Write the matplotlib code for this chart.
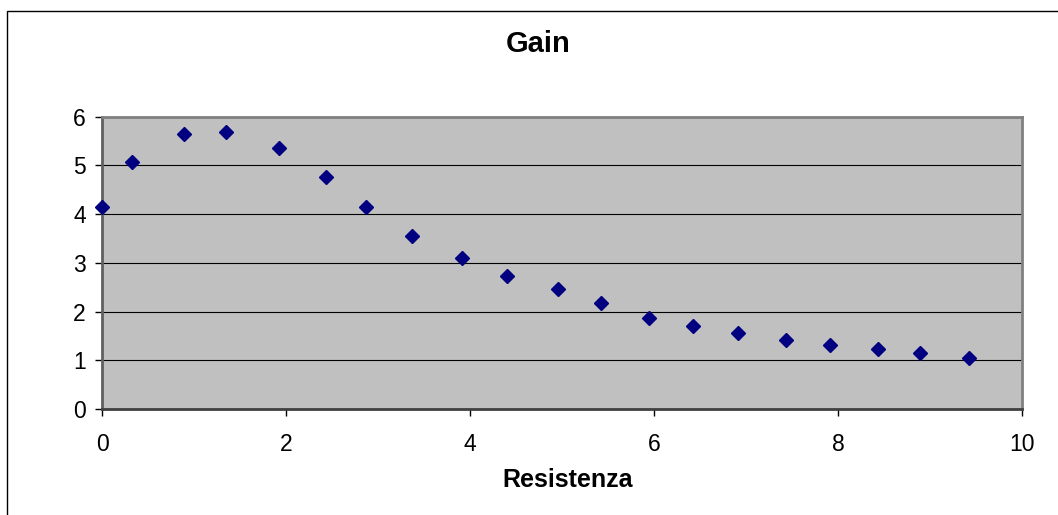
import matplotlib
matplotlib.use("Agg")
import matplotlib.pyplot as plt
from matplotlib.patches import Rectangle

resistenza = [0.0, 0.32, 0.89, 1.345, 1.92, 2.43, 2.87, 3.37, 3.91, 4.40,
              4.96, 5.42, 5.94, 6.42, 6.91, 7.43, 7.91, 8.43, 8.89, 9.42]
gain = [4.15, 5.07, 5.65, 5.68, 5.35, 4.77, 4.15, 3.55, 3.10, 2.73,
        2.46, 2.18, 1.87, 1.70, 1.57, 1.42, 1.32, 1.23, 1.15, 1.05]
x_ticks = [0, 2, 4, 6, 8, 10]
y_ticks = [0, 1, 2, 3, 4, 5, 6]

plt.rcParams['font.family'] = ['Liberation Sans', 'DejaVu Sans']

W, H = 1058, 515
fig = plt.figure(figsize=(W / 100, H / 100), dpi=100)
fig.patch.set_facecolor('white')

# outer chart border
fig.patches.append(Rectangle((7 / W, -0.1), 1.2, 1 - 11 / H + 0.1,
                             transform=fig.transFigure, fill=False,
                             edgecolor='black', linewidth=1.0))

left, right, top, bottom = 102.3, 1022, 116.7, 409
ax = fig.add_axes([left / W, 1 - bottom / H, (right - left) / W, (bottom - top) / H])
ax.set_facecolor('#C0C0C0')
ax.set_xlim(0, 10)
ax.set_ylim(0, 6)
ax.set_xticks(x_ticks)
ax.set_yticks(y_ticks)
ax.yaxis.grid(True, color='black', linewidth=0.8)
ax.set_axisbelow(True)
for s in ax.spines.values():
    s.set_color('#808080')
    s.set_linewidth(2)
ax.spines['bottom'].set_color('#404040')
ax.spines['left'].set_color('#606060')
ax.tick_params(axis='both', direction='out', length=5, width=1, color='black',
               labelsize=16.5)
ax.tick_params(axis='y', pad=7)
ax.tick_params(axis='x', pad=12)

ax.plot(resistenza, gain, linestyle='none', marker='D', markersize=7.1,
        color='#000080', markeredgecolor='#000080', zorder=5, clip_on=False)

fig.text(538 / W, 1 - 43.5 / H, 'Gain', ha='center', va='center',
         fontsize=21, fontweight='bold')
fig.text(568 / W, 1 - 480 / H, 'Resistenza', ha='center', va='center',
         fontsize=18, fontweight='bold')

fig.savefig('out.png', dpi=100)
